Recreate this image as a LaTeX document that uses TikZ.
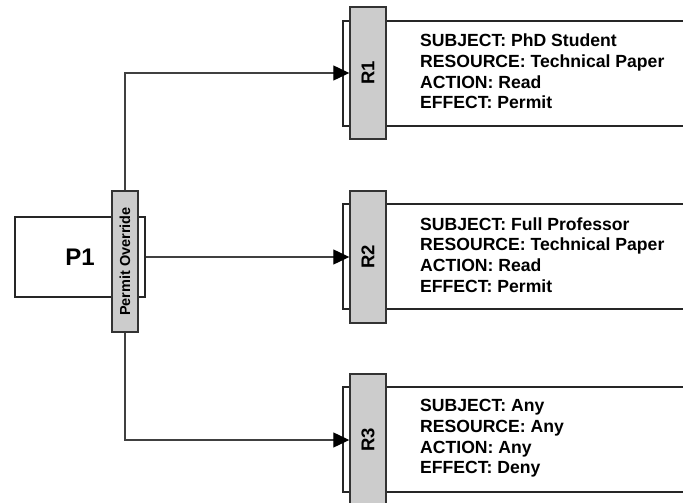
\documentclass[tikz,border=0pt]{standalone}
\usepackage{fontspec}
\setmainfont{Liberation Sans}
\usepackage{tikz}
\usetikzlibrary{arrows.meta}
\tikzset{every node/.append style={font=\bfseries}}
\tikzset{
  rulebox/.style={draw=black!85, line width=1.2pt, fill=white, inner sep=0pt, minimum width=357pt, minimum height=105pt},
  tab/.style={draw=black!80, line width=1.4pt, fill=black!20, inner sep=0pt, rotate=90, font=\bfseries\fontsize{18.5}{18.5}\selectfont},
  conn/.style={draw=black!75, line width=1.2pt, -{Triangle[length=16pt,width=15pt,color=black]}},
  ruletext/.style={anchor=west, align=left, inner sep=0pt, font=\bfseries\fontsize{17.6}{20.6}\selectfont}
}

\begin{document}
\begin{tikzpicture}[x=1pt, y=-1pt]
    \clip (0,0) rectangle (683,503);
    % policy with its combining algorithm
    \node[draw=black!85, line width=1.2pt, fill=white, minimum width=130pt, minimum height=80pt, font=\bfseries\fontsize{24}{24}\selectfont] (p1) at (80,257) {P1};
    \node[draw=black!80, line width=1.4pt, fill=black!20, inner sep=0pt, minimum width=141pt, minimum height=26pt, rotate=90, font=\bfseries\fontsize{14.5}{14.5}\selectfont] (pbar) at (125,261.5) {Permit Override};
    % rules
    \node[rulebox] (r1box) at (521.5,73.5) {};
    \node[rulebox] (r2box) at (521.5,256.5) {};
    \node[rulebox] (r3box) at (521.5,439.5) {};
    \node[tab, minimum width=132pt, minimum height=36pt] (r1bar) at (368,73) {R1};
    \node[tab, minimum width=132pt, minimum height=36pt] (r2bar) at (368,257) {R2};
    \node[tab, minimum width=132pt, minimum height=36pt] (r3bar) at (368,440) {R3};
    \node[ruletext] (r1txt) at (420,71.5) {SUBJECT: PhD Student\\RESOURCE: Technical Paper\\ACTION: Read\\EFFECT: Permit};
    \node[ruletext] (r2txt) at (420,255) {SUBJECT: Full Professor\\RESOURCE: Technical Paper\\ACTION: Read\\EFFECT: Permit};
    \node[ruletext] (r3txt) at (420,438.5) {SUBJECT: Any\\RESOURCE: Any\\ACTION: Any\\EFFECT: Deny};
    % connectors
    \draw[conn] (pbar.east) |- (r1bar.north);
    \draw[conn] (p1.east) -- (r2bar.north);
    \draw[conn] (pbar.west) |- (r3bar.north);
\end{tikzpicture}
\end{document}
